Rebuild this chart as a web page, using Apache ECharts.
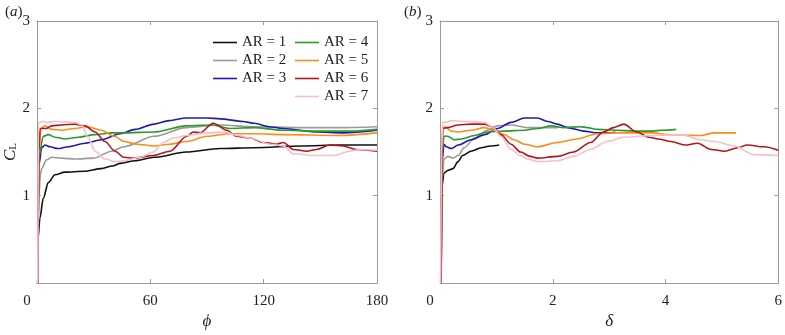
<!DOCTYPE html>
<html>
<head>
<meta charset="utf-8">
<script src="https://cdn.jsdelivr.net/npm/echarts@6/dist/echarts.min.js"></script>
<style>
  html, body { margin: 0; padding: 0; background: #fff; }
  #main { width: 785px; height: 335px; }
</style>
</head>
<body>
<div id="main"></div>
<script>
// legend names and line colours
var arNames = ['AR = 1', 'AR = 2', 'AR = 3', 'AR = 4', 'AR = 5', 'AR = 6', 'AR = 7'];
var arColors = ['#111111', '#9a9a9a', '#1c1cb4', '#2a9a2a', '#ff8c1a', '#b3161b', '#f7bfcb'];

// ticks
var phiTicks = [0, 60, 120, 180];
var deltaTicks = [0, 2, 4, 6];
var clTicks = [0, 1, 2, 3];

// (a) C_L against phi
var phi1 = [0.4, 0.5, 1.6, 3.3, 6, 9.5, 14.8, 25, 34, 40, 44, 52, 62, 79, 97, 115, 140, 160, 180];
var cl1a = [0, 0.5, 0.75, 0.97, 1.15, 1.24, 1.27, 1.28, 1.31, 1.34, 1.37, 1.40, 1.44, 1.50, 1.54, 1.55, 1.57, 1.58, 1.58];
var phi2 = [0.4, 1.0, 1.8, 2.5, 5, 8, 13, 20, 30, 39.5, 46, 62, 79, 97, 115, 140, 160, 180];
var cl2a = [0, 1.0, 1.24, 1.31, 1.41, 1.44, 1.43, 1.42, 1.43, 1.51, 1.56, 1.68, 1.78, 1.81, 1.79, 1.78, 1.78, 1.79];
var phi3 = [0.4, 1.0, 2.5, 4.2, 7, 11, 16.6, 25.4, 34, 44, 52, 62, 70, 79, 90, 97, 109, 115, 123, 130, 148, 162, 180];
var cl3a = [0, 1.35, 1.55, 1.58, 1.56, 1.54, 1.56, 1.60, 1.64, 1.71, 1.76, 1.82, 1.86, 1.89, 1.89, 1.88, 1.85, 1.83, 1.79, 1.77, 1.73, 1.72, 1.75];
var phi4 = [0.4, 1.0, 3.3, 6, 9.5, 14.8, 22, 30.7, 39.5, 46, 62, 79, 93, 102, 115, 130, 148, 166, 180];
var cl4a = [0, 1.45, 1.68, 1.70, 1.67, 1.65, 1.67, 1.70, 1.72, 1.72, 1.73, 1.80, 1.81, 1.77, 1.78, 1.75, 1.74, 1.74, 1.76];
var phi5 = [0.4, 1.0, 2.1, 4.2, 7.8, 13, 20, 27, 34, 41, 46, 53, 62, 70, 79, 90, 102, 115, 130, 160, 180];
var cl5a = [0, 1.5, 1.77, 1.80, 1.76, 1.75, 1.77, 1.79, 1.75, 1.68, 1.62, 1.59, 1.57, 1.59, 1.62, 1.68, 1.71, 1.71, 1.70, 1.69, 1.72];
var phi6 = [0.4, 1.0, 1.6, 5, 7.8, 13, 20, 25.4, 30.7, 36, 41.3, 46, 51, 61.6, 70.4, 79.3, 82.8, 86.3, 93.3, 100.4, 105.7, 112.8, 119.8, 126.9, 130.4, 135.7, 142.8, 148, 155, 162, 169, 180];
var cl6a = [0, 1.5, 1.77, 1.77, 1.80, 1.81, 1.82, 1.80, 1.73, 1.62, 1.51, 1.44, 1.43, 1.46, 1.51, 1.68, 1.73, 1.72, 1.83, 1.75, 1.68, 1.66, 1.61, 1.59, 1.61, 1.53, 1.51, 1.53, 1.58, 1.57, 1.53, 1.51];
var phi7 = [0.4, 0.8, 3.3, 6, 9.5, 20, 23.6, 27.2, 30.7, 36, 41.3, 46, 54.5, 61.6, 66.9, 72.2, 79.2, 89.8, 100, 106, 112.8, 123.3, 130.4, 135.7, 148, 157, 165.7, 171, 180];
var cl7a = [0, 1.84, 1.85, 1.84, 1.85, 1.84, 1.81, 1.66, 1.51, 1.42, 1.39, 1.40, 1.44, 1.50, 1.61, 1.66, 1.69, 1.72, 1.73, 1.69, 1.66, 1.59, 1.57, 1.48, 1.46, 1.46, 1.51, 1.53, 1.52];

// (b) C_L against delta
var del1 = [0.02, 0.023, 0.035, 0.07, 0.14, 0.23, 0.32, 0.40, 0.55, 0.73, 0.90, 1.05];
var cl1b = [0, 0.86, 1.11, 1.26, 1.29, 1.31, 1.39, 1.46, 1.51, 1.55, 1.57, 1.58];
var del2 = [0.02, 0.04, 0.07, 0.14, 0.23, 0.32, 0.43, 0.61, 0.84, 1.02, 1.26, 1.55, 1.8, 2.1];
var cl2b = [0, 1.2, 1.42, 1.45, 1.43, 1.46, 1.55, 1.66, 1.75, 1.80, 1.81, 1.78, 1.78, 1.78];
var del3 = [0.02, 0.04, 0.07, 0.11, 0.2, 0.32, 0.55, 0.79, 1.02, 1.26, 1.5, 1.73, 1.91, 2.08, 2.26, 2.55, 2.79, 3.02, 3.11];
var cl3b = [0, 1.4, 1.59, 1.56, 1.54, 1.58, 1.64, 1.70, 1.77, 1.84, 1.89, 1.89, 1.85, 1.82, 1.78, 1.74, 1.72, 1.72, 1.73];
var del4 = [0.02, 0.04, 0.07, 0.14, 0.26, 0.38, 0.61, 0.84, 1.14, 1.5, 1.73, 1.97, 2.2, 2.49, 2.61, 2.79, 3.14, 3.43, 3.78, 3.93, 4.19];
var cl4b = [0, 1.5, 1.68, 1.68, 1.64, 1.65, 1.69, 1.73, 1.74, 1.75, 1.77, 1.80, 1.78, 1.79, 1.78, 1.76, 1.75, 1.74, 1.74, 1.75, 1.76];
var del5 = [0.02, 0.035, 0.05, 0.09, 0.2, 0.32, 0.55, 0.79, 0.96, 1.14, 1.31, 1.5, 1.73, 2.08, 2.43, 2.79, 3.14, 3.78, 4.05, 4.63, 4.87, 5.25];
var cl5b = [0, 1.5, 1.77, 1.79, 1.74, 1.73, 1.75, 1.78, 1.75, 1.70, 1.64, 1.59, 1.56, 1.61, 1.65, 1.71, 1.72, 1.72, 1.70, 1.69, 1.72, 1.72];
var del6 = [0.02, 0.035, 0.05, 0.14, 0.32, 0.55, 0.79, 0.93, 1.08, 1.26, 1.43, 1.6, 1.73, 2.08, 2.37, 2.67, 2.90, 3.08, 3.26, 3.49, 3.70, 3.87, 4.1, 4.34, 4.57, 4.81, 5.05, 5.28, 5.45, 5.75, 6.0];
var cl6b = [0, 1.5, 1.77, 1.78, 1.81, 1.82, 1.82, 1.79, 1.70, 1.59, 1.50, 1.45, 1.43, 1.45, 1.50, 1.61, 1.73, 1.78, 1.82, 1.73, 1.67, 1.65, 1.62, 1.58, 1.60, 1.53, 1.51, 1.55, 1.58, 1.56, 1.52];
var del7 = [0.01, 0.03, 0.047, 0.11, 0.2, 0.43, 0.79, 0.93, 1.08, 1.26, 1.43, 1.55, 1.73, 2.08, 2.37, 2.67, 2.96, 3.26, 3.78, 4.28, 4.63, 4.87, 5.22, 5.57, 6.0];
var cl7b = [0, 1.5, 1.84, 1.84, 1.86, 1.85, 1.84, 1.79, 1.68, 1.53, 1.46, 1.42, 1.39, 1.40, 1.45, 1.53, 1.62, 1.67, 1.69, 1.70, 1.64, 1.62, 1.57, 1.47, 1.46];

var panelA = [[phi1, cl1a], [phi2, cl2a], [phi3, cl3a], [phi4, cl4a], [phi5, cl5a], [phi6, cl6a], [phi7, cl7a]];
var panelB = [[del1, cl1b], [del2, cl2b], [del3, cl3b], [del4, cl4b], [del5, cl5b], [del6, cl6b], [del7, cl7b]];

var serif = '"Liberation Serif", "DejaVu Serif", serif';
var boxColor = '#9a9a9a';

function pairs(xs, ys) {
  var out = [];
  for (var i = 0; i < xs.length; i++) out.push([xs[i], ys[i]]);
  return out;
}

// bottom / left axes carry labels, top / right ones only close the box with ticks
function xAx(grid, ticks, name, labels) {
  return {
    type: 'value', gridIndex: grid,
    min: ticks[0], max: ticks[ticks.length - 1], interval: ticks[1] - ticks[0],
    position: labels ? 'bottom' : 'top',
    name: labels ? name : '', nameLocation: 'middle', nameGap: 25,
    nameTextStyle: { fontFamily: serif, fontStyle: 'italic', fontSize: 17, color: '#222' },
    axisLine: { show: true, onZero: false, lineStyle: { color: boxColor, width: 1 } },
    axisTick: { show: true, inside: true, length: 4, lineStyle: { color: boxColor } },
    axisLabel: {
      show: labels, margin: 10, fontFamily: serif, fontSize: 15, color: '#222',
      formatter: function (v) { return v === 0 ? '{z|0}' : String(v); },
      rich: { z: { fontFamily: serif, fontSize: 15, color: '#222', padding: [0, 20, 0, 0] } }
    },
    splitLine: { show: false }
  };
}

function yAx(grid, labels, withName) {
  return {
    type: 'value', gridIndex: grid,
    min: clTicks[0], max: clTicks[clTicks.length - 1], interval: clTicks[1] - clTicks[0],
    position: labels ? 'left' : 'right',
    name: withName ? '{c|C}{s|L}' : '', nameLocation: 'middle', nameGap: 16, nameRotate: 90,
    nameTextStyle: {
      rich: {
        c: { fontFamily: serif, fontStyle: 'italic', fontSize: 17, color: '#222' },
        s: { fontFamily: serif, fontSize: 11, color: '#222', verticalAlign: 'bottom', padding: [6, 0, 0, 0] }
      }
    },
    axisLine: { show: true, onZero: false, lineStyle: { color: boxColor, width: 1 } },
    axisTick: { show: true, inside: true, length: 4, lineStyle: { color: boxColor } },
    axisLabel: { show: labels, showMinLabel: false, margin: 7, fontFamily: serif, fontSize: 15, color: '#222' },
    splitLine: { show: false }
  };
}

var series = [];
for (var i = 0; i < arNames.length; i++) {
  series.push({
    name: arNames[i], type: 'line', xAxisIndex: 0, yAxisIndex: 0,
    data: pairs(panelA[i][0], panelA[i][1]),
    symbol: 'none', smooth: 0.3, smoothMonotone: 'x',
    lineStyle: { color: arColors[i], width: 1.6 }, itemStyle: { color: arColors[i] }
  });
  series.push({
    name: arNames[i], type: 'line', xAxisIndex: 2, yAxisIndex: 2,
    data: pairs(panelB[i][0], panelB[i][1]),
    symbol: 'none', smooth: 0.3, smoothMonotone: 'x',
    lineStyle: { color: arColors[i], width: 1.6 }, itemStyle: { color: arColors[i] }
  });
}

var legendText = { fontFamily: serif, fontSize: 15, color: '#222' };
var lineIcon = 'path://M0,0 L24,0 L24,1.6 L0,1.6 Z';
var panelTag = {
  p: { fontFamily: serif, fontSize: 15, fontWeight: 'normal', color: '#222' },
  i: { fontFamily: serif, fontStyle: 'italic', fontSize: 15, fontWeight: 'normal', color: '#222' }
};

var option = {
  animation: false,
  backgroundColor: '#fff',
  title: [
    { text: '{p|(}{i|a}{p|)}', left: 0, top: 0, textStyle: { fontWeight: 'normal', rich: panelTag } },
    { text: '{p|(}{i|b}{p|)}', left: 399, top: 0, textStyle: { fontWeight: 'normal', rich: panelTag } }
  ],
  legend: [
    { data: arNames.slice(0, 3), orient: 'vertical', left: 208, top: 30, itemWidth: 24, itemHeight: 14, itemGap: 3,
      icon: lineIcon, selectedMode: false, textStyle: legendText },
    { data: arNames.slice(3), orient: 'vertical', left: 290, top: 30, itemWidth: 24, itemHeight: 14, itemGap: 3,
      icon: lineIcon, selectedMode: false, textStyle: legendText }
  ],
  grid: [
    { left: 37, right: 408, top: 21, bottom: 40 },
    { left: 440, right: 4, top: 21, bottom: 40 }
  ],
  xAxis: [
    xAx(0, phiTicks, 'ϕ', true),
    xAx(0, phiTicks, '', false),
    xAx(1, deltaTicks, 'δ', true),
    xAx(1, deltaTicks, '', false)
  ],
  yAxis: [
    yAx(0, true, true),
    yAx(0, false, false),
    yAx(1, true, false),
    yAx(1, false, false)
  ],
  series: series
};

var chart = echarts.init(document.getElementById('main'));
chart.setOption(option);
</script>
</body>
</html>
